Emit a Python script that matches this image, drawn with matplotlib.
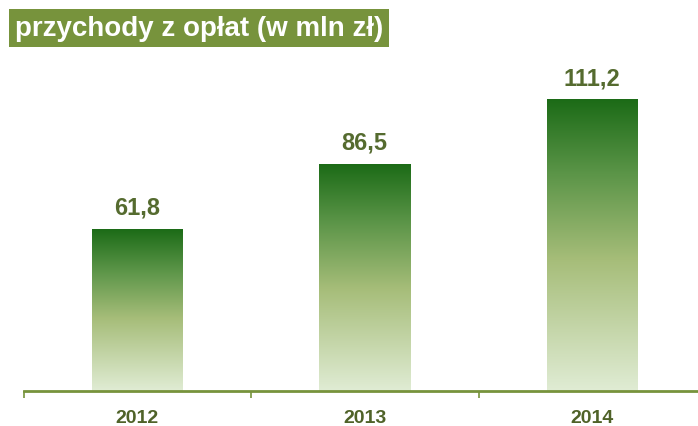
import matplotlib
matplotlib.use("Agg")
import matplotlib.pyplot as plt
import numpy as np
from matplotlib.colors import LinearSegmentedColormap

years = ["2012", "2013", "2014"]
values = [61.8, 86.5, 111.2]
labels = ["61,8", "86,5", "111,2"]
title = "przychody z opłat (w mln zł)"

plt.rcParams['font.family'] = ['Liberation Sans', 'DejaVu Sans']

fig = plt.figure(figsize=(6.98, 4.27), dpi=100)
ax = fig.add_axes([23.5/698, 35/427, 682.5/698, 332/427])
ax.set_xlim(-0.5, 2.5)
ax.set_ylim(0, 126.7)

cmap = LinearSegmentedColormap.from_list(
    "g", [(0.0, "#e0ecd4"), (0.45, "#a6bd79"), (0.75, "#5a9447"), (1.0, "#1c6b17")])
grad = np.linspace(0, 1, 256).reshape(-1, 1)

x = np.arange(len(years))
bars = ax.bar(x, values, width=0.4, color="none", edgecolor="none")
for b, lab in zip(bars, labels):
    x0, y0 = b.get_x(), b.get_y()
    w, h = b.get_width(), b.get_height()
    ax.imshow(grad, extent=(x0, x0 + w, y0, y0 + h), origin="lower",
              cmap=cmap, aspect="auto", zorder=2)
    ax.text(x0 + w / 2, y0 + h + 4.0, lab, ha="center", va="bottom",
            fontsize=17, fontweight="bold", color="#556b2f")

ax.set_xlim(-0.5, 2.5)
ax.set_ylim(0, 126.7)
for s in ["top", "right", "left"]:
    ax.spines[s].set_visible(False)
ax.spines["bottom"].set_color("#77933c")
ax.spines["bottom"].set_linewidth(2)
ax.set_yticks([])
ax.set_xticks(x)
ax.set_xticklabels(years, fontsize=14, fontweight="bold", color="#4f6228")
ax.tick_params(axis="x", which="major", length=0, pad=13)
ax.set_xticks([-0.5, 0.5, 1.5, 2.5], minor=True)
ax.tick_params(axis="x", which="minor", length=5, width=1.2, color="#77933c", direction="out")

fig.text(15/698, 1 - 29/427, title, ha="left", va="center", fontsize=20,
         fontweight="bold", color="white",
         bbox=dict(boxstyle="square,pad=0.2", facecolor="#77933c", edgecolor="none"))

fig.savefig("out.png", dpi=100)
